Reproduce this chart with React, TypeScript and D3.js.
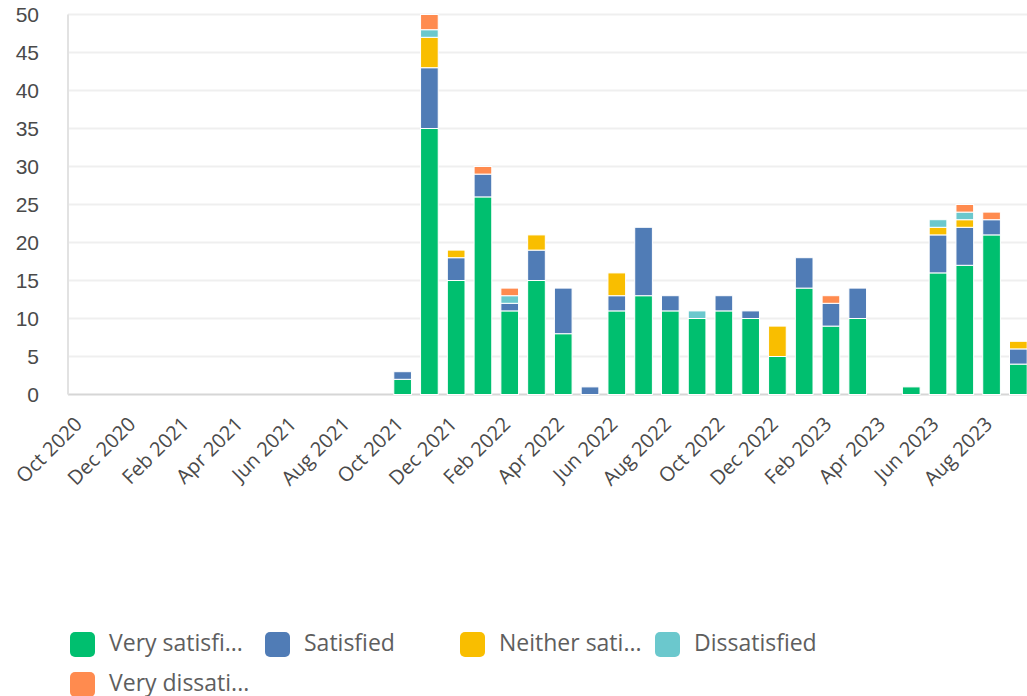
import React from "react";
import * as d3 from "d3";

// Monthly response counts, Oct 2020 – Sep 2023
const months: string[] = [
  "Oct 2020", "Nov 2020", "Dec 2020", "Jan 2021", "Feb 2021", "Mar 2021",
  "Apr 2021", "May 2021", "Jun 2021", "Jul 2021", "Aug 2021", "Sep 2021",
  "Oct 2021", "Nov 2021", "Dec 2021", "Jan 2022", "Feb 2022", "Mar 2022",
  "Apr 2022", "May 2022", "Jun 2022", "Jul 2022", "Aug 2022", "Sep 2022",
  "Oct 2022", "Nov 2022", "Dec 2022", "Jan 2023", "Feb 2023", "Mar 2023",
  "Apr 2023", "May 2023", "Jun 2023", "Jul 2023", "Aug 2023", "Sep 2023",
];

const verySatisfied: number[] = [
  0, 0, 0, 0, 0, 0, 0, 0, 0, 0, 0, 0,
  2, 35, 15, 26, 11, 15, 8, 0, 11, 13, 11, 10,
  11, 10, 5, 14, 9, 10, 0, 1, 16, 17, 21, 4,
];
const satisfied: number[] = [
  0, 0, 0, 0, 0, 0, 0, 0, 0, 0, 0, 0,
  1, 8, 3, 3, 1, 4, 6, 1, 2, 9, 2, 0,
  2, 1, 0, 4, 3, 4, 0, 0, 5, 5, 2, 2,
];
const neither: number[] = [
  0, 0, 0, 0, 0, 0, 0, 0, 0, 0, 0, 0,
  0, 4, 1, 0, 0, 2, 0, 0, 3, 0, 0, 0,
  0, 0, 4, 0, 0, 0, 0, 0, 1, 1, 0, 1,
];
const dissatisfied: number[] = [
  0, 0, 0, 0, 0, 0, 0, 0, 0, 0, 0, 0,
  0, 1, 0, 0, 1, 0, 0, 0, 0, 0, 0, 1,
  0, 0, 0, 0, 0, 0, 0, 0, 1, 1, 0, 0,
];
const veryDissatisfied: number[] = [
  0, 0, 0, 0, 0, 0, 0, 0, 0, 0, 0, 0,
  0, 2, 0, 1, 1, 0, 0, 0, 0, 0, 0, 0,
  0, 0, 0, 0, 1, 0, 0, 0, 0, 1, 1, 0,
];

const seriesKeys = ["vs", "s", "n", "d", "vd"];
const legendLabels = [
  "Very satisfi...",
  "Satisfied",
  "Neither sati...",
  "Dissatisfied",
  "Very dissati...",
];
const seriesColors = ["#00BF6F", "#507CB6", "#F9BE00", "#6BC8CD", "#FF8B4F"];
const yTicks = [0, 5, 10, 15, 20, 25, 30, 35, 40, 45, 50];

const W = 1027;
const H = 696;
const plot = { left: 68, top: 14.5, bottom: 394.5, step: 26.77 };

export default function App() {
  const rows = months.map((m, i) => ({
    month: m,
    vs: verySatisfied[i],
    s: satisfied[i],
    n: neither[i],
    d: dissatisfied[i],
    vd: veryDissatisfied[i],
  }));

  const x = d3
    .scaleBand<string>()
    .domain(months)
    .range([plot.left, plot.left + plot.step * months.length])
    .paddingInner(0.34)
    .paddingOuter(0.17);

  const y = d3.scaleLinear().domain([0, 50]).range([plot.bottom, plot.top]);

  const stacked = d3.stack<any>().keys(seriesKeys)(rows);
  const color = d3.scaleOrdinal<string, string>().domain(seriesKeys).range(seriesColors);

  const tickMonths = months.filter((_, i) => i % 2 === 0);
  const font = "'Open Sans', sans-serif";

  return (
    <svg
      width={W}
      height={H}
      style={{ position: "absolute", left: 0, top: 0, background: "#fff" }}
    >
      {/* horizontal gridlines */}
      {yTicks.map((t) => (
        <line
          key={"g" + t}
          x1={plot.left}
          x2={W}
          y1={y(t)}
          y2={y(t)}
          stroke={t === 0 ? "#d6d6d6" : "#efefef"}
          strokeWidth={2}
        />
      ))}
      {/* y axis line */}
      <line
        x1={plot.left}
        x2={plot.left}
        y1={plot.top}
        y2={plot.bottom}
        stroke="#e2e2e2"
        strokeWidth={2}
      />
      {/* y tick labels */}
      {yTicks.map((t) => (
        <text
          key={"yl" + t}
          x={39}
          y={y(t)}
          dy="0.36em"
          textAnchor="end"
          fontFamily="'Liberation Sans', Arial, sans-serif"
          fontSize={21}
          fill="#4a4a4a"
        >
          {t}
        </text>
      ))}

      {/* stacked bars */}
      {stacked.map((layer) => (
        <g key={layer.key} fill={color(layer.key)}>
          {layer.map((seg, i) =>
            seg[1] - seg[0] > 0 ? (
              <rect
                key={i}
                x={x(rows[i].month)}
                y={y(seg[1])}
                width={x.bandwidth()}
                height={y(seg[0]) - y(seg[1])}
                stroke="#fff"
                strokeWidth={1}
              />
            ) : null
          )}
        </g>
      ))}

      {/* x tick labels */}
      {tickMonths.map((m) => {
        const cx = (x(m) as number) + x.bandwidth() / 2;
        return (
          <text
            key={"xl" + m}
            transform={`translate(${cx + 2},${plot.bottom + 31}) rotate(-45)`}
            textAnchor="end"
            fontFamily={font}
            fontSize={20}
            fill="#4a4a4a"
          >
            {m}
          </text>
        );
      })}

      {/* legend */}
      {legendLabels.map((label, i) => {
        const col = i % 4;
        const row = Math.floor(i / 4);
        const lx = 70 + col * 195;
        const ly = 632 + row * 40;
        return (
          <g key={"lg" + i} transform={`translate(${lx},${ly})`}>
            <rect width={25} height={25} rx={5} fill={seriesColors[i]} />
            <text
              x={39}
              y={18.5}
              fontFamily={font}
              fontSize={23}
              fill="#5e5e5e"
            >
              {label}
            </text>
          </g>
        );
      })}
    </svg>
  );
}
